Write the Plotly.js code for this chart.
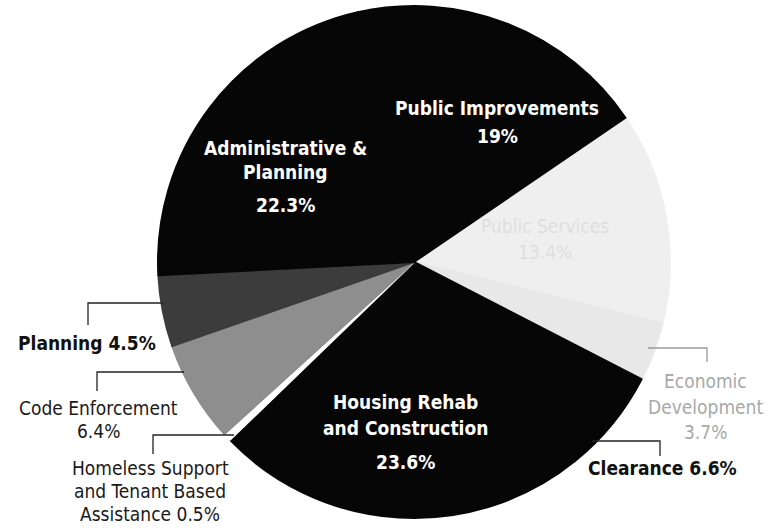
<!DOCTYPE html>
<html>
<head>
<meta charset="utf-8">
<script src="https://cdn.plot.ly/plotly-3.0.1.min.js"></script>
<style>
html,body{margin:0;padding:0;background:#fff;}
#chart{width:779px;height:529px;}
</style>
</head>
<body>
<div id="chart"></div>
<script>
// Data (clockwise from the upper-right)
const categories = [
  "Public Services",
  "Economic Development",
  "Clearance",
  "Housing Rehab and Construction",
  "Homeless Support and Tenant Based Assistance",
  "Code Enforcement",
  "Planning",
  "Administrative & Planning",
  "Public Improvements"
];
const values = [13.4, 3.7, 6.6, 23.6, 0.5, 6.4, 4.5, 22.3, 19];
const sliceColors = ["#efefef", "#e8e8e8", "#060606", "#060606", "#ffffff", "#8e8e8e", "#3c3c3c", "#060606", "#060606"];

const W = 779, H = 529;
const cx = 414, cy = 262, R = 256;
const px = x => x / W;
const py = y => 1 - y / H;

const fam = "'DejaVu Sans Condensed', 'DejaVu Sans', sans-serif";
const pct = i => values[i] + "%";

const trace = {
  type: "pie",
  labels: categories,
  values: values,
  sort: false,
  direction: "clockwise",
  rotation: 55.7,
  marker: { colors: sliceColors, line: { width: 2, color: sliceColors } },
  textinfo: "none",
  hoverinfo: "label+percent",
  showlegend: false,
  domain: { x: [px(cx - R), px(cx + R)], y: [py(cy + R), py(cy - R)] }
};

function ann(x, y, text, opts) {
  return Object.assign({
    xref: "paper", yref: "paper", x: px(x), y: py(y),
    xanchor: "center", yanchor: "middle", showarrow: false,
    text: text, align: "center"
  }, opts || {});
}
const whiteBold = { font: { family: fam, size: 19, color: "#ffffff", weight: "bold" } };
const blackBold = { font: { family: fam, size: 19, color: "#111111", weight: "bold" } };
const blackReg = { font: { family: fam, size: 19, color: "#1a1a1a" } };
const lightReg = { font: { family: fam, size: 19, color: "#a8a8a8" } };

const annotations = [
  ann(497, 108, "<b>Public Improvements</b>", whiteBold),
  ann(497, 136, "<b>" + pct(8) + "</b>", whiteBold),
  ann(285, 148, "<b>Administrative &</b>", whiteBold),
  ann(285, 172, "<b>Planning</b>", whiteBold),
  ann(285, 205, "<b>" + pct(7) + "</b>", whiteBold),
  ann(405, 402, "<b>Housing Rehab</b>", whiteBold),
  ann(405, 428, "<b>and Construction</b>", whiteBold),
  ann(405, 462, "<b>" + pct(3) + "</b>", whiteBold),
  ann(545, 226, "Public Services", { font: { family: fam, size: 19, color: "#dedede" } }),
  ann(545, 252, pct(0), { font: { family: fam, size: 19, color: "#dedede" } }),
  ann(87, 343, "<b>Planning " + pct(6) + "</b>", blackBold),
  ann(98, 408, "Code Enforcement", blackReg),
  ann(98, 431, pct(5), blackReg),
  ann(150, 468, "Homeless Support", blackReg),
  ann(150, 491, "and Tenant Based", blackReg),
  ann(150, 514, "Assistance " + pct(4), blackReg),
  ann(662, 468, "<b>Clearance " + pct(2) + "</b>", blackBold),
  ann(705, 381, "Economic", lightReg),
  ann(705, 407, "Development", lightReg),
  ann(705, 432, pct(1), lightReg)
];

function leader(x0, y0, x1, y1, color) {
  return {
    type: "path", xref: "paper", yref: "paper",
    path: "M " + px(x0) + " " + py(y0) + " L " + px(x1) + " " + py(y0) + " L " + px(x1) + " " + py(y1),
    line: { color: color || "#222222", width: 1.3 }
  };
}
const shapes = [
  leader(163, 303, 88, 325),
  leader(184, 372, 97, 391),
  leader(234, 435, 153, 454),
  leader(592, 441, 660, 456),
  leader(648, 348, 707, 362, "#9a9a9a")
];

const layout = {
  width: W, height: H,
  margin: { l: 0, r: 0, t: 0, b: 0 },
  paper_bgcolor: "#ffffff",
  plot_bgcolor: "#ffffff",
  showlegend: false,
  annotations: annotations,
  shapes: shapes
};

Plotly.newPlot("chart", [trace], layout, { displayModeBar: false, staticPlot: true });
</script>
</body>
</html>
